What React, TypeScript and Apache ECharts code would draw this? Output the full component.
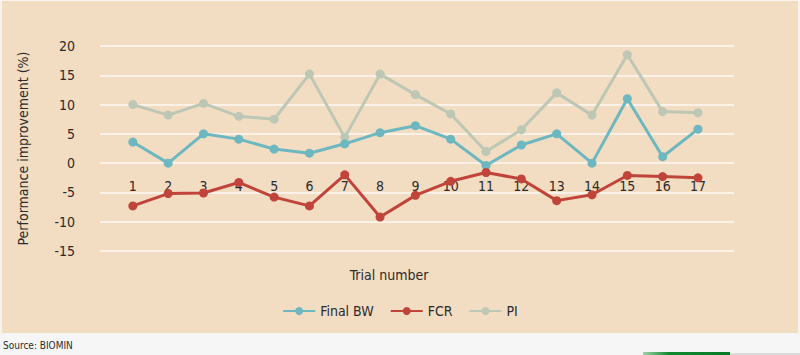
import React, { useEffect, useRef } from "react";
import * as echarts from "echarts";

const trials = [1, 2, 3, 4, 5, 6, 7, 8, 9, 10, 11, 12, 13, 14, 15, 16, 17];
const finalBW = [3.6, 0, 5.0, 4.1, 2.4, 1.7, 3.3, 5.2, 6.4, 4.1, -0.4, 3.1, 5.0, 0, 11.0, 1.1, 5.8];
const fcr = [-7.3, -5.2, -5.1, -3.3, -5.8, -7.3, -2.0, -9.2, -5.5, -3.1, -1.6, -2.7, -6.4, -5.4, -2.1, -2.3, -2.5];
const pi = [10.0, 8.2, 10.2, 8.0, 7.5, 15.2, 4.4, 15.2, 11.7, 8.4, 2.0, 5.7, 12.0, 8.2, 18.5, 8.8, 8.6];
const yTicks = { min: -15, max: 20, interval: 5 };

const FONT = "'Liberation Sans Narrow', 'DejaVu Sans Condensed', 'Roboto', sans-serif";
const TXT = "#2b2b2b";

export default function App() {
  const ref = useRef<HTMLDivElement>(null);
  useEffect(() => {
    if (!ref.current) return;
    const chart = echarts.init(ref.current, undefined, { renderer: "svg" });
    const mk = (name: string, vals: number[], color: string, z: number) => ({
      name,
      type: "line",
      z,
      data: trials.map((t, i) => [t, vals[i]]),
      symbol: "circle",
      symbolSize: 9,
      itemStyle: { color },
      lineStyle: { color, width: 3 },
    });
    chart.setOption({
      animation: false,
      backgroundColor: "#f2dcc2",
      textStyle: { fontFamily: FONT },
      grid: { left: 100, right: 66, top: 46, bottom: 104 },
      legend: {
        top: 299,
        left: "center",
        itemWidth: 32,
        itemHeight: 10,
        itemGap: 16,
        textStyle: { fontSize: 14, color: TXT, fontFamily: FONT },
        data: ["Final BW", "FCR", "PI"],
      },
      xAxis: {
        type: "value",
        min: 0.07,
        max: 18.02,
        offset: -87,
        splitLine: { show: false },
        axisTick: { show: false },
        axisLine: { show: false, onZero: false },
        axisLabel: {
          customValues: trials,
          margin: 15,
          fontSize: 14,
          color: TXT,
          fontFamily: FONT,
        },
      },
      yAxis: {
        type: "value",
        min: yTicks.min,
        max: yTicks.max,
        interval: yTicks.interval,
        name: "Performance improvement (%)",
        nameLocation: "middle",
        nameGap: 70,
        nameTextStyle: { fontSize: 14, color: TXT, fontFamily: FONT },
        axisLine: { show: false },
        axisTick: { show: false },
        axisLabel: { margin: 25, fontSize: 14, color: TXT, fontFamily: FONT },
        splitLine: { lineStyle: { color: "rgba(255,255,255,0.85)", width: 1.5 } },
      },
      graphic: [
        { type: "rect", left: 0, top: 333, shape: { width: 800, height: 22 }, style: { fill: "#f6f6f6" }, silent: true },
        { type: "rect", left: 0, top: 0, shape: { width: 800, height: 1 }, style: { fill: "#f7f3ee" }, silent: true },
        { type: "rect", left: 0, top: 0, shape: { width: 2, height: 333 }, style: { fill: "#f7f3ee" }, silent: true },
        { type: "rect", left: 798, top: 0, shape: { width: 2, height: 333 }, style: { fill: "#f7f3ee" }, silent: true },
        {
          type: "rect",
          left: 643,
          top: 352,
          shape: { width: 87, height: 3 },
          style: {
            fill: new echarts.graphic.LinearGradient(0, 0, 1, 0, [
              { offset: 0, color: "#9ed3a8" },
              { offset: 0.3, color: "#0f8a30" },
              { offset: 1, color: "#0a7a28" },
            ]),
          },
          silent: true,
        },
        { type: "rect", left: 730, top: 353, shape: { width: 70, height: 2 }, style: { fill: "#dcdcdc" }, silent: true },
        {
          type: "text",
          x: 389,
          y: 275,
          style: { text: "Trial number", fill: TXT, font: `14px ${FONT}`, align: "center", verticalAlign: "middle" },
        },
        {
          type: "text",
          x: 3,
          y: 345,
          style: { text: "Source: BIOMIN", fill: TXT, font: `10px ${FONT}`, align: "left", verticalAlign: "middle" },
        },
      ],
      series: [
        mk("Final BW", finalBW, "#6db7c1", 3),
        mk("FCR", fcr, "#c1443a", 4),
        mk("PI", pi, "#bdc7b5", 2),
      ],
    });
    return () => chart.dispose();
  }, []);
  return <div ref={ref} style={{ position: "fixed", left: 0, top: 0, width: 800, height: 355 }} />;
}
